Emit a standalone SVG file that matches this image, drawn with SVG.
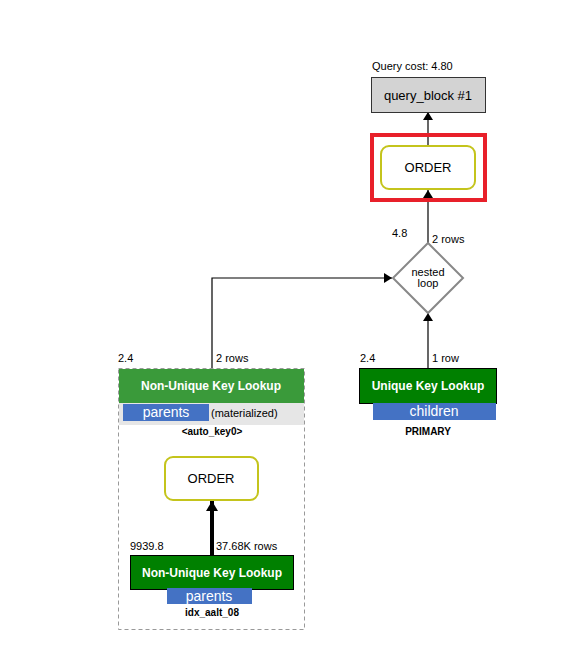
<svg xmlns="http://www.w3.org/2000/svg" width="573" height="660" viewBox="0 0 573 660">
<defs>
<style>
text{font-family:"Liberation Sans",Arial,sans-serif;}
.lbl{font-size:11px;fill:#000;}
.title{font-size:12px;font-weight:bold;fill:#fff;text-anchor:middle;}
.tbl{font-size:14px;fill:#fff;text-anchor:middle;}
.key{font-size:10px;font-weight:bold;fill:#000;text-anchor:middle;}
.order{fill:#fff;stroke:#c4c41c;stroke-width:2;}
.ordert{font-size:13px;fill:#000;text-anchor:middle;}
.conn{fill:none;stroke:#000;stroke-width:1.2;}
</style>
<marker id="ah" markerWidth="8" markerHeight="10" refX="8" refY="5" orient="auto" markerUnits="userSpaceOnUse"><path d="M0,0 L8,5 L0,10 z" fill="#000"/></marker>
<marker id="ahb" markerWidth="10" markerHeight="12" refX="10" refY="6" orient="auto" markerUnits="userSpaceOnUse"><path d="M0,0 L10,6 L0,12 z" fill="#000"/></marker>
</defs>
<rect width="573" height="660" fill="#fff"/>

<g id="connectors">
<path class="conn" d="M428,146 L428,112" marker-end="url(#ah)"/>
<path class="conn" d="M428,243 L428,190" marker-end="url(#ah)"/>
<path class="conn" d="M212,368 L212,278 L392,278" marker-end="url(#ah)"/>
<path class="conn" d="M428,368 L428,313" marker-end="url(#ah)"/>
<path fill="none" stroke="#000" stroke-width="4" d="M212,555 L212,501" marker-end="url(#ahb)"/>
</g>

<g id="query_block">
<text class="lbl" x="372" y="70" font-size="10">Query cost: 4.80</text>
<rect x="371.5" y="77.5" width="114" height="35" fill="#d3d3d3" stroke="#333" stroke-width="1"/>
<text x="428" y="100" font-size="13" text-anchor="middle" fill="#000">query_block #1</text>
</g>

<g id="order_top">
<rect x="372" y="135" width="113" height="65" fill="none" stroke="#e8202a" stroke-width="4"/>
<rect class="order" x="381" y="146" width="94" height="43" rx="8"/>
<text class="ordert" x="428" y="172">ORDER</text>
</g>

<g id="nested_loop">
<text class="lbl" x="392" y="237">4.8</text>
<text class="lbl" x="432" y="243">2 rows</text>
<polygon points="428,243 463,278 428,313 393,278" fill="#fff" stroke="#888" stroke-width="2"/>
<text x="428" y="276" font-size="11" text-anchor="middle">nested</text>
<text x="428" y="287" font-size="11" text-anchor="middle">loop</text>
</g>

<g id="unique_lookup">
<text class="lbl" x="360" y="362">2.4</text>
<text class="lbl" x="432" y="362">1 row</text>
<rect x="359.5" y="368.5" width="137" height="35" fill="#008000" stroke="#000" stroke-width="1"/>
<text class="title" x="428" y="390">Unique Key Lookup</text>
<rect x="373" y="403" width="123" height="17" fill="#4472c4"/>
<text class="tbl" x="434" y="416">children</text>
<text class="key" x="428" y="435">PRIMARY</text>
</g>

<g id="nonunique_outer">
<text class="lbl" x="118" y="362">2.4</text>
<text class="lbl" x="216" y="362">2 rows</text>
<rect x="118.5" y="368.5" width="186" height="261" fill="none" stroke="#999" stroke-width="1" stroke-dasharray="4,3"/>
<rect x="119" y="369" width="185" height="34" fill="#3a9a3a"/>
<text class="title" x="211" y="390">Non-Unique Key Lookup</text>
<rect x="119" y="403" width="185" height="22" fill="#e6e6e6"/>
<rect x="123" y="404" width="86" height="17" fill="#4472c4"/>
<text class="tbl" x="166" y="417">parents</text>
<text class="lbl" x="211" y="417">(materialized)</text>
<text class="key" x="212" y="435">&lt;auto_key0&gt;</text>
</g>

<g id="order_inner">
<rect class="order" x="165" y="457" width="93" height="43" rx="8"/>
<text class="ordert" x="211" y="483">ORDER</text>
</g>

<g id="nonunique_inner">
<text class="lbl" x="130" y="550">9939.8</text>
<text class="lbl" x="216" y="550">37.68K rows</text>
<rect x="130.5" y="555.5" width="163" height="34" fill="#008000" stroke="#000" stroke-width="1"/>
<text class="title" x="212" y="577">Non-Unique Key Lookup</text>
<rect x="167" y="588" width="85" height="16" fill="#4472c4"/>
<text class="tbl" x="209" y="601">parents</text>
<text class="key" x="212" y="616">idx_aalt_08</text>
</g>
</svg>
